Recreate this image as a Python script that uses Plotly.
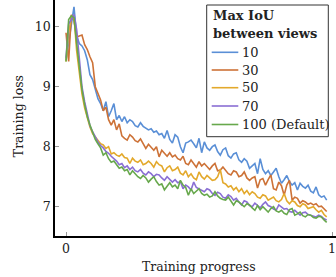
import plotly.graph_objects as go

progress = [i / 100 for i in range(99)]

loss_10 = [9.44, 9.75, 10.1, 10.33, 9.85, 9.72, 9.68, 9.6, 9.45, 9.2,
           9.12, 8.95, 8.8, 8.72, 8.6, 8.75, 8.5, 8.6, 8.72, 8.45,
           8.52, 8.42, 8.5, 8.4, 8.45, 8.42, 8.35, 8.33, 8.4, 8.34,
           8.31, 8.28, 8.3, 8.24, 8.26, 8.2, 8.22, 8.14, 8.27, 8.12,
           8.06, 8.2, 8.16, 8.0, 7.9, 8.06, 8.08, 8.11, 8.05, 7.98,
           8.14, 7.9, 8.08, 7.98, 7.94, 8.0, 8.03, 7.92, 7.86, 7.95,
           7.98, 7.85, 7.81, 7.88, 7.9, 7.78, 7.74, 7.8, 7.76, 7.64,
           7.68, 7.72, 7.55, 7.8, 7.62, 7.55, 7.6, 7.52, 7.58, 7.64,
           7.5, 7.39, 7.45, 7.52, 7.42, 7.36, 7.4, 7.28, 7.39, 7.34,
           7.31, 7.36, 7.26, 7.23, 7.33, 7.2, 7.16, 7.18, 7.11]

loss_30 = [9.9, 9.42, 10.2, 10.1, 9.83, 9.85, 9.86, 9.7, 9.62, 9.5,
           9.4, 9.0, 8.88, 8.78, 8.6, 8.66, 8.45, 8.36, 8.45, 8.28,
           8.38, 8.18, 8.14, 8.11, 8.2, 8.16, 8.1, 8.08, 8.13, 8.05,
           7.97, 8.04, 7.98, 7.94, 8.0, 7.83, 7.94, 7.88, 7.84, 7.9,
           7.83, 7.86, 7.8, 7.78, 7.84, 7.72, 7.7, 7.78, 7.72, 7.66,
           7.75, 7.68, 7.72, 7.66, 7.62, 7.68, 7.72, 7.6, 7.61, 7.66,
           7.6, 7.55, 7.53, 7.6, 7.58, 7.5, 7.52, 7.58, 7.48, 7.44,
           7.48, 7.5, 7.31, 7.45, 7.47, 7.36, 7.45, 7.53, 7.3, 7.28,
           7.41, 7.35, 7.19, 7.36, 7.44, 7.11, 7.16, 7.14, 7.06, 7.1,
           7.08, 7.04, 7.06, 7.03, 7.05, 7.0, 7.01, 6.96, 6.92]

loss_50 = [9.42, 9.9, 10.15, 10.18, 9.6, 9.2, 8.88, 8.65, 8.47, 8.33,
           8.22, 8.16, 8.11, 8.05, 8.03, 7.97, 8.0, 7.88, 7.9, 7.86,
           7.84, 7.88, 7.82, 7.81, 7.72, 7.81, 7.76, 7.74, 7.78, 7.7,
           7.72, 7.76, 7.72, 7.66, 7.75, 7.7, 7.68, 7.58, 7.65, 7.68,
           7.6, 7.62, 7.66, 7.56, 7.53, 7.6, 7.5, 7.55, 7.48, 7.45,
           7.58, 7.5, 7.46, 7.52, 7.48, 7.44, 7.45, 7.5, 7.62, 7.4,
           7.38, 7.33, 7.35, 7.28, 7.32, 7.25, 7.3, 7.22, 7.27, 7.2,
           7.25, 7.22, 7.16, 7.14, 7.2, 7.18, 7.11, 7.14, 7.16, 7.1,
           7.08, 7.12, 7.22, 7.1, 7.05, 7.1, 7.08, 7.02, 7.0, 7.05,
           7.03, 6.97, 6.98, 7.0, 6.95, 6.91, 6.94, 6.87, 6.83]

loss_70 = [9.48, 10.05, 10.12, 10.2, 9.95, 9.4, 9.0, 8.75, 8.55, 8.35,
           8.25, 8.15, 8.08, 8.02, 7.98, 7.92, 7.89, 7.84, 7.8, 7.76,
           7.7, 7.72, 7.65, 7.68, 7.62, 7.66, 7.6, 7.58, 7.62, 7.56,
           7.53, 7.58, 7.55, 7.5, 7.54, 7.53, 7.48, 7.44, 7.5, 7.46,
           7.41, 7.45, 7.4, 7.42, 7.3, 7.36, 7.33, 7.28, 7.41, 7.32,
           7.3, 7.27, 7.25, 7.3, 7.28, 7.22, 7.19, 7.24, 7.22, 7.16,
           7.14, 7.2, 7.17, 7.11, 7.14, 7.08, 7.03, 7.1, 7.08, 7.02,
           7.0, 7.06, 7.02, 6.98, 7.04, 7.08, 7.02, 7.0, 6.96, 6.94,
           7.03, 6.99, 6.96, 6.97, 6.92, 6.91, 6.94, 6.9, 6.86, 6.9,
           6.91, 6.87, 6.86, 6.84, 6.83, 6.86, 6.84, 6.8, 6.78]

loss_100 = [9.42, 10.12, 10.18, 10.15, 9.72, 9.3, 8.95, 8.7, 8.5, 8.36,
            8.22, 8.12, 8.05, 7.98, 7.86, 7.9, 7.8, 7.74, 7.76, 7.69,
            7.64, 7.66, 7.6, 7.62, 7.53, 7.6, 7.55, 7.5, 7.47, 7.52,
            7.48, 7.41, 7.46, 7.5, 7.42, 7.36, 7.38, 7.28, 7.34, 7.4,
            7.33, 7.36, 7.3, 7.44, 7.36, 7.32, 7.19, 7.3, 7.22, 7.26,
            7.3, 7.22, 7.19, 7.21, 7.16, 7.18, 7.25, 7.18, 7.14, 7.12,
            7.11, 7.16, 7.1, 7.03, 7.1, 7.08, 7.04, 7.0, 7.05, 7.03,
            6.98, 6.94, 7.02, 6.95, 7.0, 6.96, 6.91, 6.97, 7.0, 6.93,
            6.91, 6.94, 6.89, 6.87, 6.95, 6.97, 6.86, 6.88, 6.91, 6.85,
            6.83, 6.87, 6.86, 6.82, 6.81, 6.84, 6.83, 6.78, 6.74]

series_names = ["10", "30", "50", "70", "100 (Default)"]
series_values = [loss_10, loss_30, loss_50, loss_70, loss_100]
colors = ["#5a8fd6", "#cd7237", "#e3a92c", "#8a6fd4", "#67a84c"]

y_ticks = [7, 8, 9, 10]
x_ticks = [0, 1]
legend_title = "Max IoU between views"

FONT = "DejaVu Serif"
TXT = "#222222"

W, H = 336, 277
L, R, T, B = 55, 0, 0, 41
PW, PH = W - L - R, H - T - B


def px(x):
    return (x - L) / PW


def py(y):
    return 1 - (y - T) / PH


fig = go.Figure()
for name, vals, col in zip(series_names, series_values, colors):
    fig.add_trace(go.Scatter(x=progress, y=vals, mode="lines", name=name,
                             line=dict(color=col, width=1.6)))

annotations = [
    dict(text="Training progress", x=px(199), y=py(266.5), xref="paper", yref="paper",
         xanchor="center", yanchor="middle", showarrow=False,
         font=dict(family=FONT, size=12.5, color=TXT)),
    dict(text="Training loss", x=px(18.5), y=py(116.7), xref="paper", yref="paper",
         xanchor="center", yanchor="middle", showarrow=False, textangle=-90,
         font=dict(family=FONT, size=12.5, color=TXT)),
]
shapes = [
    dict(type="rect", xref="paper", yref="paper", x0=px(206.7), x1=px(328.3),
         y0=py(136.7), y1=py(5), line=dict(color="#333333", width=1), fillcolor="white",
         layer="above"),
]
title_lines = legend_title.replace("IoU ", "IoU\n").split("\n")
for k, line in enumerate(title_lines):
    annotations.append(dict(text="<b>" + line + "</b>", x=px(211.2), y=py(15 + 18.5 * k),
                            xref="paper", yref="paper", xanchor="left", yanchor="middle",
                            showarrow=False, font=dict(family=FONT, size=13, color=TXT)))
entry_y = [52.3, 70, 87.7, 106, 124.5]
for name, col, ey in zip(series_names, colors, entry_y):
    shapes.append(dict(type="line", xref="paper", yref="paper", x0=px(211.7), x1=px(238.3),
                       y0=py(ey), y1=py(ey), line=dict(color=col, width=1.6), layer="above"))
    annotations.append(dict(text=name, x=px(240), y=py(ey), xref="paper", yref="paper",
                            xanchor="left", yanchor="middle", showarrow=False,
                            font=dict(family=FONT, size=13, color=TXT)))

fig.update_layout(
    width=W, height=H,
    margin=dict(l=L, r=R, t=T, b=B, autoexpand=False),
    paper_bgcolor="white", plot_bgcolor="white",
    font=dict(family=FONT, size=12.5, color=TXT),
    showlegend=False,
    annotations=annotations,
    shapes=shapes,
)
fig.update_xaxes(
    range=[-0.0414, 1.015], tickvals=x_ticks, ticktext=["0", "1"],
    ticks="inside", ticklen=4, tickcolor="#999", showgrid=False, zeroline=False,
    showline=True, linecolor="black", linewidth=1.5, automargin=False,
    tickfont=dict(family=FONT, size=12.5, color=TXT),
)
fig.update_yaxes(
    range=[6.512, 10.445], tickvals=y_ticks,
    ticks="inside", ticklen=4, tickcolor="#999", showgrid=False, zeroline=False,
    showline=True, linecolor="black", linewidth=1.5, automargin=False,
    tickfont=dict(family=FONT, size=12.5, color=TXT),
)

fig.write_html(
    "out.html",
    config={"displayModeBar": False},
    post_script="document.body.style.margin='0';document.body.style.overflow='hidden';",
)
